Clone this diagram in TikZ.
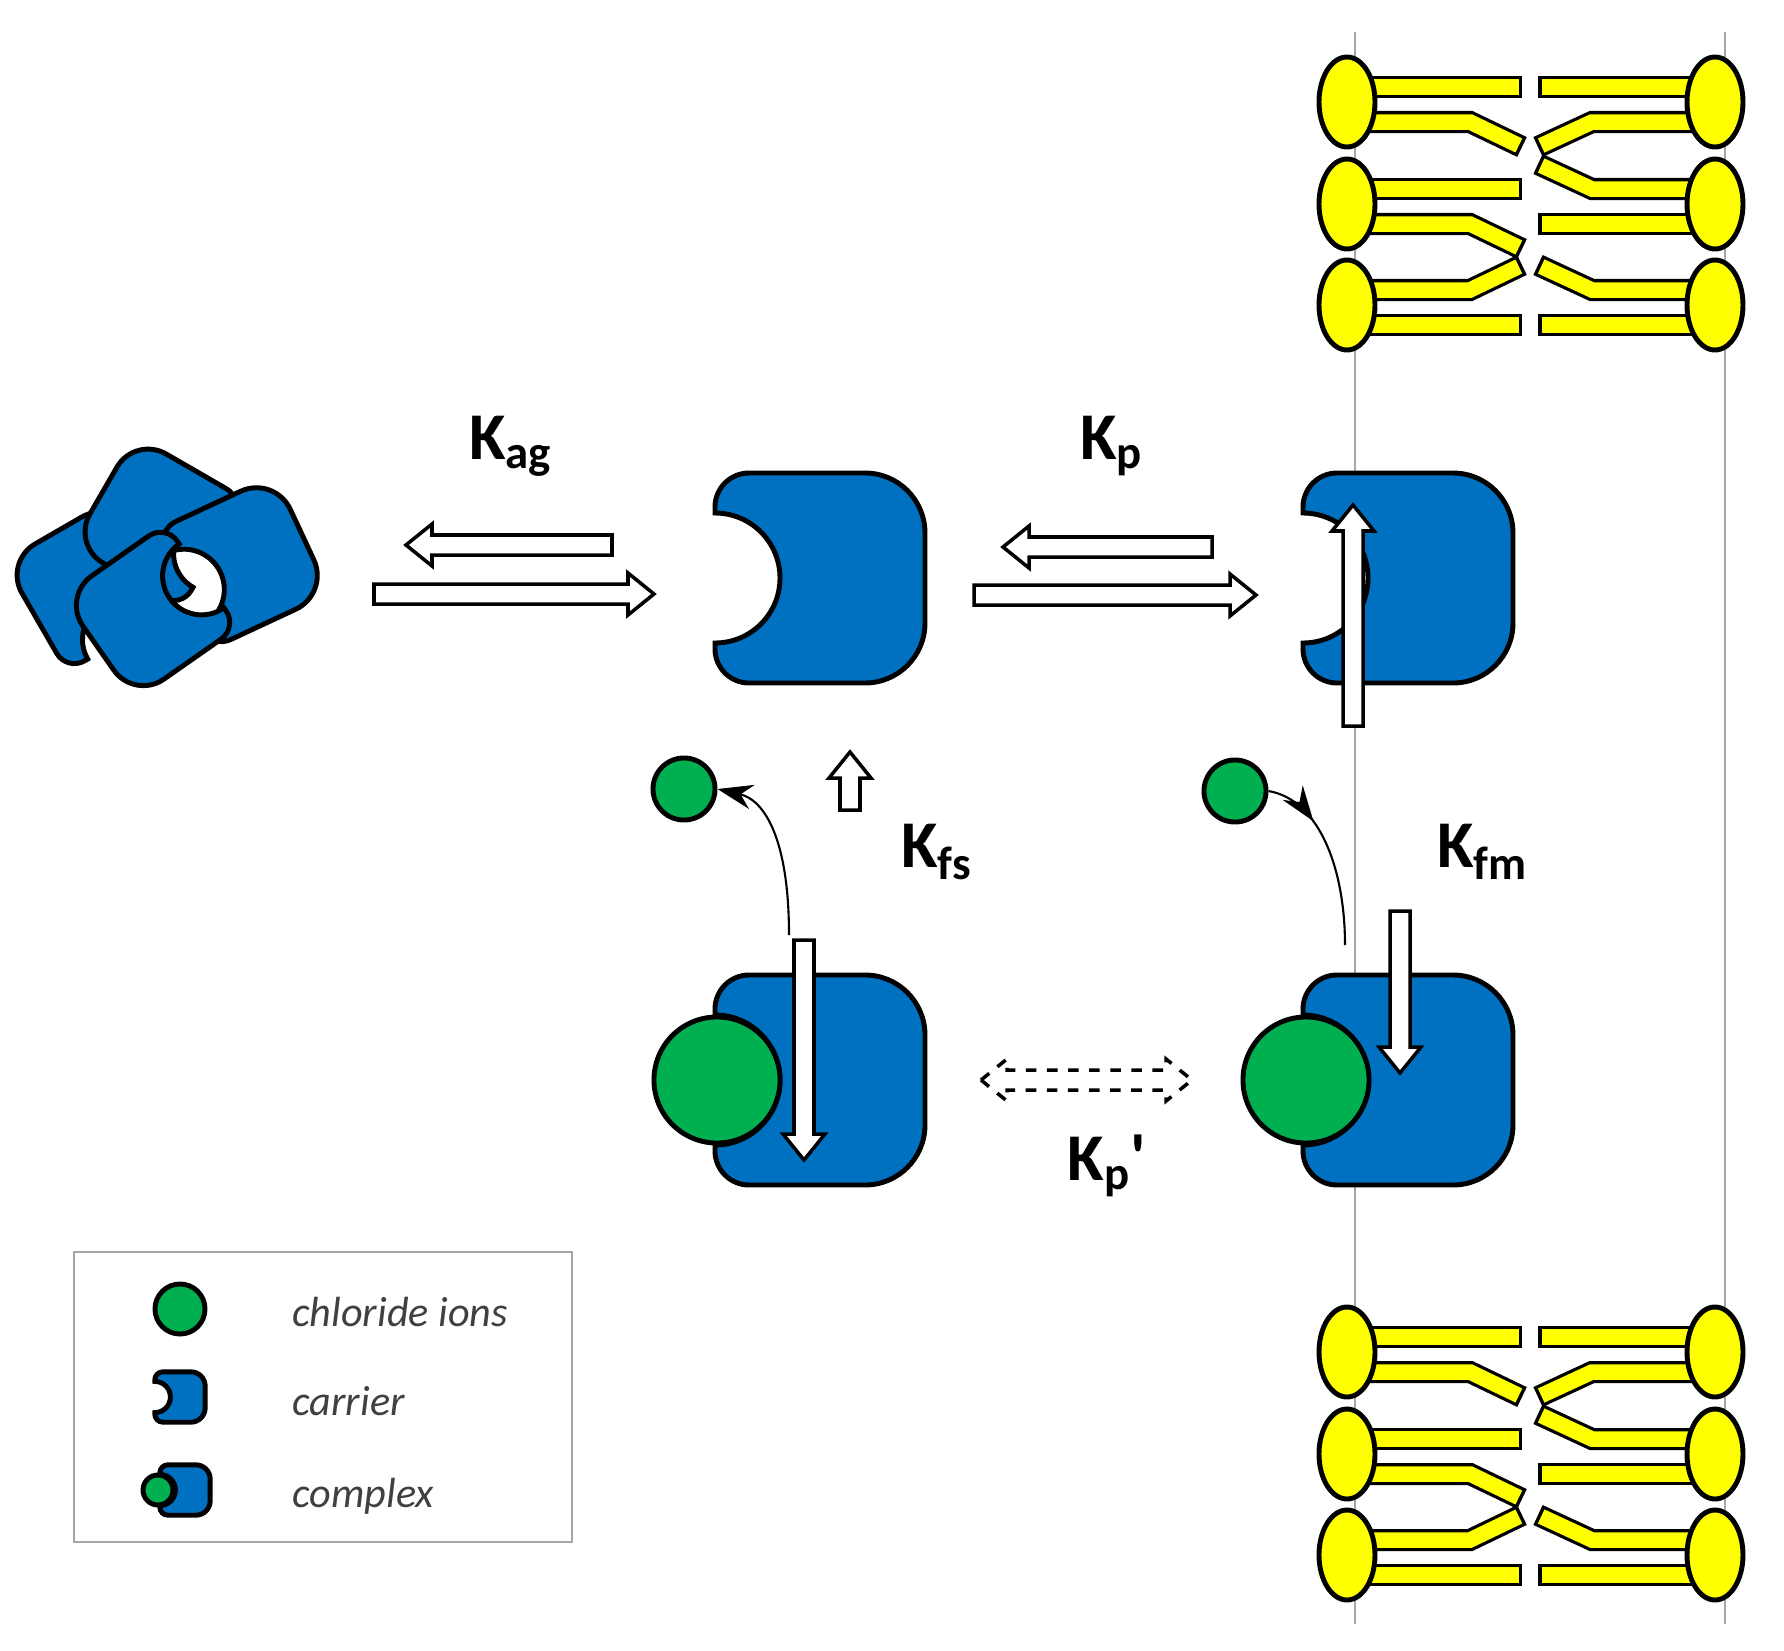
\documentclass[tikz,border=0pt]{standalone}
\usepackage{fontspec}
\setmainfont{Carlito}
\usetikzlibrary{arrows.meta,decorations.markings}
\definecolor{cblue}{HTML}{0070C0}
\definecolor{cgreen}{HTML}{00B050}
\definecolor{cyel}{HTML}{FFFF00}
\tikzset{
  ol/.style={draw=black,line width=1.4pt},
  tailo/.style={draw=black,line width=0.22cm,line join=miter},
  taili/.style={draw=cyel,line width=0.155cm,line join=miter,shorten >=0.035cm,shorten <=0.035cm},
  head/.style={ol,fill=cyel},
  lbl/.style={font=\fontsize{19pt}{21pt}\selectfont\bfseries},
  leg/.style={font=\fontsize{12pt}{14pt}\selectfont\itshape,text=black!75,anchor=west},
  ion/.style={circle,ol,fill=cgreen,inner sep=0pt},
  barr/.style={ol,fill=white,line width=1pt},
  pics/carrier/.style={code={
    \path[ol,fill=cblue] (-105,-65) arc[start angle=-90,end angle=90,radius=65] -- (-105,71)
      arc[start angle=180,end angle=90,radius=34] -- (45,105) arc[start angle=90,end angle=0,radius=60]
      -- (105,-45) arc[start angle=0,end angle=-90,radius=60] -- (-71,-105)
      arc[start angle=270,end angle=180,radius=34] -- cycle;}}
}
\newcommand\ltail[2]{\draw[tailo] (1347,#1)--(1470,#1)--(1522,#1+#2);\draw[taili] (1347,#1)--(1470,#1)--(1522,#1+#2);}
\newcommand\rtail[2]{\draw[tailo] (1715,#1)--(1592,#1)--(1538,#1+#2);\draw[taili] (1715,#1)--(1592,#1)--(1538,#1+#2);}
\newcommand\heads[1]{\fill[head] (1347,#1) ellipse[x radius=28,y radius=45];\fill[head] (1715,#1) ellipse[x radius=28,y radius=45];}
\newcommand\lipids[1]{%
  \pgfmathsetmacro\ca{102+#1}\pgfmathsetmacro\cb{204+#1}\pgfmathsetmacro\cc{305+#1}%
  \ltail{\ca-15}{0}\ltail{\ca+20}{25}\rtail{\ca-15}{0}\rtail{\ca+20}{25}%
  \ltail{\cb-15}{0}\ltail{\cb+20}{25}\rtail{\cb-15}{-25}\rtail{\cb+20}{0}%
  \ltail{\cc-15}{-25}\ltail{\cc+20}{0}\rtail{\cc-15}{-25}\rtail{\cc+20}{0}%
  \heads{\ca}\heads{\cb}\heads{\cc}}
% x y length angle style
\newcommand\blockarrow[5]{\begin{scope}[shift={(#1,#2)},rotate=#4]
  \draw[barr,#5] (0,-10)--(#3-26,-10)--(#3-26,-21)--(#3,0)--(#3-26,21)--(#3-26,10)--(0,10)--cycle;\end{scope}}
\begin{document}
\begin{tikzpicture}[x=0.01cm,y=-0.01cm]
\useasboundingbox (0,0) rectangle (1784,1651);
% membrane lines
\draw[black!35,line width=0.8pt] (1355,32)--(1355,1624) (1725,32)--(1725,1624);
\lipids{0}
\lipids{1250}
% aggregate
\pic[scale=0.6,rotate=120] at (90,585) {carrier};
\pic[scale=0.6,rotate=150] at (158,522) {carrier};
\pic[scale=0.62,rotate=25] at (243,562) {carrier};
\pic[scale=0.6,rotate=-145] at (150,612) {carrier};
% carriers
\pic at (820,578) {carrier};
\pic at (1408,578) {carrier};
\pic at (820,1080) {carrier};
\pic at (1408,1080) {carrier};
\node[ion,minimum size=1.26cm] (c1) at (717,1080) {};
\node[ion,minimum size=1.26cm] (c2) at (1306,1080) {};
% arrows
\blockarrow{612}{545}{206}{180}{}
\blockarrow{374}{594}{280}{0}{}
\blockarrow{1212}{547}{209}{180}{}
\blockarrow{974}{595}{282}{0}{}
\blockarrow{804}{940}{220}{-90}{}
\blockarrow{850}{810}{58}{90}{}
\blockarrow{1353}{726}{221}{90}{}
\blockarrow{1400}{911}{162}{-90}{}
\draw[barr,dashed] (981,1080)--(1007,1059)--(1007,1070)--(1166,1070)--(1166,1059)--(1192,1080)--(1166,1101)--(1166,1090)--(1007,1090)--(1007,1101)--cycle;
% small ions and curved arrows
\node[ion,minimum size=0.62cm] (i1) at (684,789) {};
\node[ion,minimum size=0.62cm] (i2) at (1235,791) {};
\coordinate (s1) at (789,935);
\coordinate (e2) at (1345,945);
\draw[line width=0.6pt,-{Stealth[length=10pt,width=7pt]}] (s1) .. controls (789,840) and (765,800) .. (i1.east);
\draw[line width=0.6pt,decoration={markings,mark=at position 0.3 with {\arrow{Stealth[length=10pt,width=7pt]}}},postaction={decorate}] (i2.east) .. controls (1320,800) and (1345,870) .. (e2);
% labels
\node[lbl] (kag) at (511,446) {K\textsubscript{ag}};
\node[lbl] (kp) at (1112,446) {K\textsubscript{p}};
\node[lbl] (kfs) at (937,852) {K\textsubscript{fs}};
\node[lbl] (kfm) at (1483,852) {K\textsubscript{fm}};
\node[lbl] (kp2) at (1107,1166) {K\textsubscript{p}\textquotesingle};
% legend
\draw[black!35,line width=0.8pt] (74,1252) rectangle (572,1542);
\node[ion,minimum size=0.5cm] (li) at (180,1309) {};
\pic[scale=0.24] at (180,1397) {carrier};
\pic[scale=0.24] at (185,1490) {carrier};
\node[ion,minimum size=0.3cm] (lc) at (158,1490) {};
\node[leg] at (280,1312) {chloride ions};
\node[leg] at (280,1401) {carrier};
\node[leg] at (280,1496) {complex};
\end{tikzpicture}
\end{document}
